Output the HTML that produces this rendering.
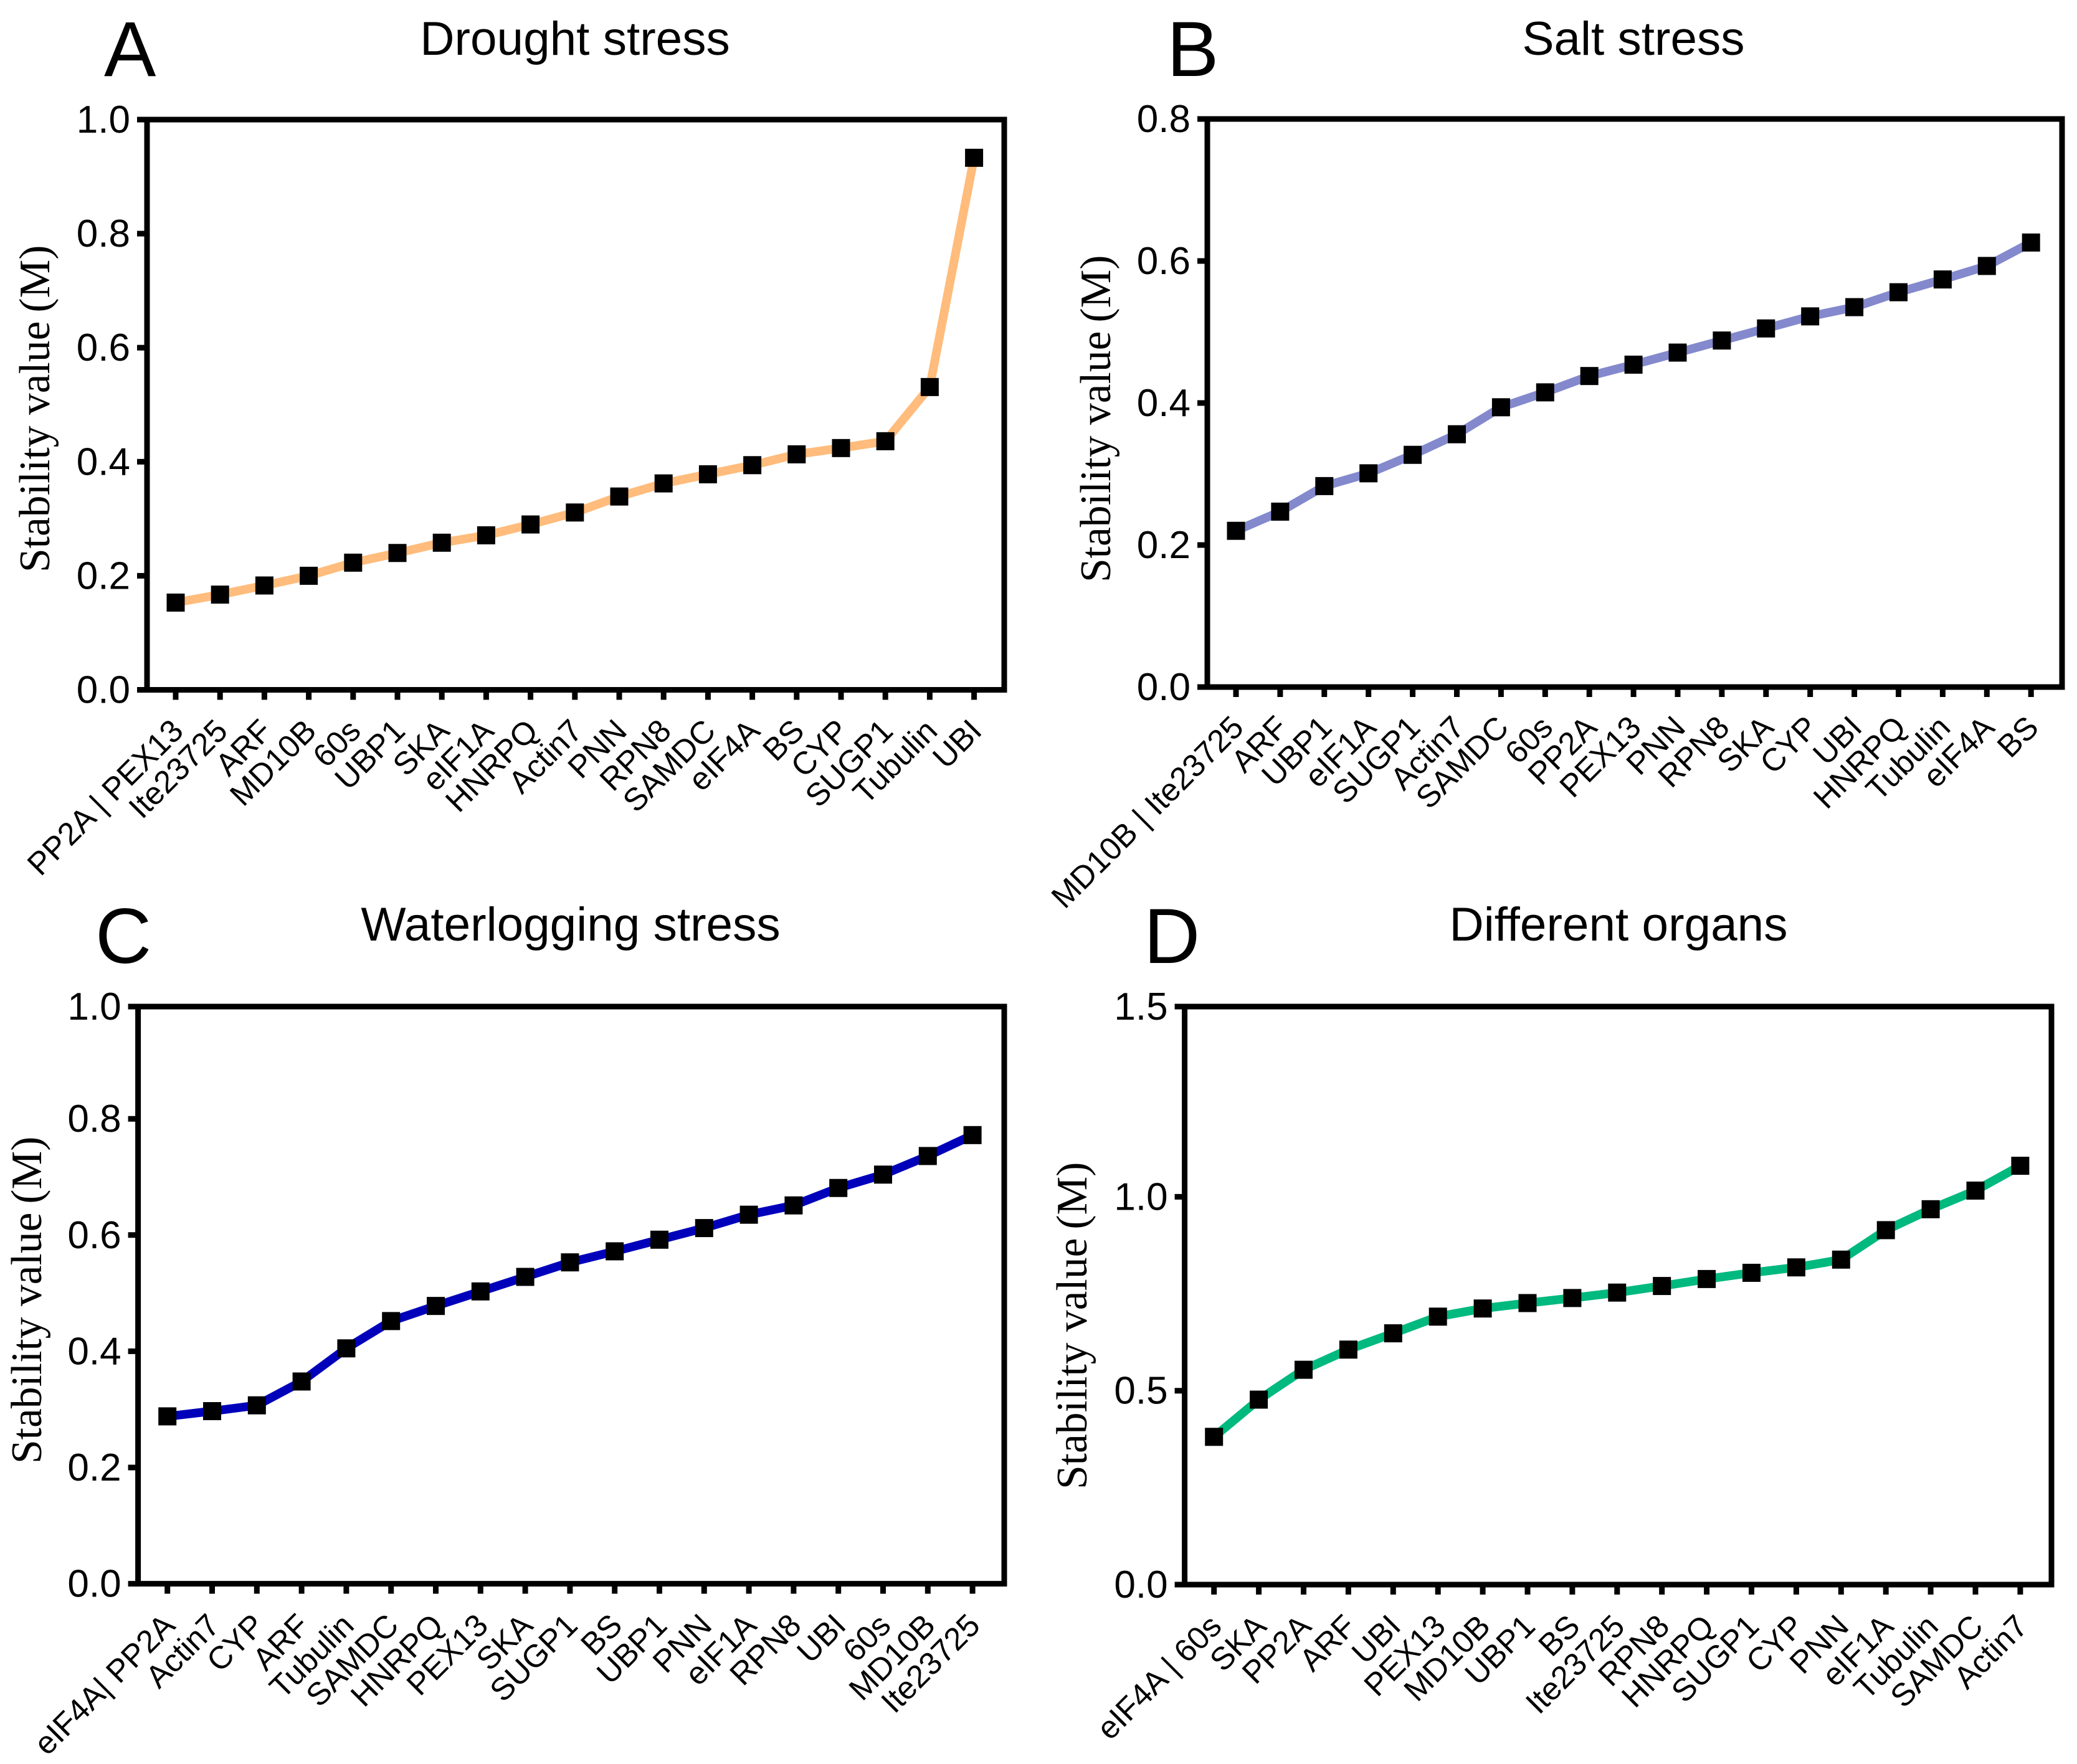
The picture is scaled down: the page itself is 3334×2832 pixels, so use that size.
<!DOCTYPE html>
<html lang="en">
<head>
<meta charset="utf-8">
<title>Stability value (M) under stress conditions</title>
<style>
html,body{margin:0;padding:0;background:#fff;width:3334px;height:2832px;overflow:hidden}
svg{display:block}
text{fill:#000}
.sans{font-family:"Liberation Sans",Arial,sans-serif}
.serif{font-family:"Liberation Serif","Times New Roman",serif}
</style>
</head>
<body>
<svg id="figure" xmlns="http://www.w3.org/2000/svg" width="3334" height="2832" viewBox="0 0 3334 2832"></svg>
<script>
const categoriesA = ["PP2A | PEX13","Ite23725","ARF","MD10B","60s","UBP1","SKA","eIF1A","HNRPQ","Actin7","PNN","RPN8","SAMDC","eIF4A","BS","CYP","SUGP1","Tubulin","UBI"];
const valuesA = [0.153,0.167,0.183,0.2,0.223,0.24,0.258,0.271,0.29,0.311,0.339,0.362,0.378,0.394,0.413,0.424,0.436,0.531,0.933];
const yTicksA = [0,0.2,0.4,0.6,0.8,1.0];

const categoriesB = ["MD10B | Ite23725","ARF","UBP1","eIF1A","SUGP1","Actin7","SAMDC","60s","PP2A","PEX13","PNN","RPN8","SKA","CYP","UBI","HNRPQ","Tubulin","eIF4A","BS"];
const valuesB = [0.22,0.247,0.283,0.301,0.327,0.356,0.394,0.415,0.438,0.454,0.471,0.488,0.505,0.522,0.535,0.556,0.574,0.593,0.626];
const yTicksB = [0,0.2,0.4,0.6,0.8];

const categoriesC = ["eIF4A| PP2A","Actin7","CYP","ARF","Tubulin","SAMDC","HNRPQ","PEX13","SKA","SUGP1","BS","UBP1","PNN","eIF1A","RPN8","UBI","60s","MD10B","Ite23725"];
const valuesC = [0.288,0.297,0.307,0.348,0.405,0.452,0.478,0.503,0.528,0.553,0.572,0.592,0.612,0.635,0.651,0.681,0.704,0.736,0.772];
const yTicksC = [0,0.2,0.4,0.6,0.8,1.0];

const categoriesD = ["eIF4A | 60s","SKA","PP2A","ARF","UBI","PEX13","MD10B","UBP1","BS","Ite23725","RPN8","HNRPQ","SUGP1","CYP","PNN","eIF1A","Tubulin","SAMDC","Actin7"];
const valuesD = [0.381,0.477,0.554,0.606,0.648,0.691,0.712,0.726,0.739,0.753,0.77,0.788,0.804,0.818,0.838,0.914,0.968,1.016,1.08];
const yTicksD = [0,0.5,1.0,1.5];

const NS = "http://www.w3.org/2000/svg";
const root = document.getElementById("figure");

function make(tag, attrs, parent) {
  const el = document.createElementNS(NS, tag);
  for (const k in attrs) el.setAttribute(k, attrs[k]);
  parent.appendChild(el);
  return el;
}

function drawPanel(p) {
  const g = make("g", {}, root);
  
  

  const xPos = i => p.firstX + i * p.stepX;
  const yPos = v => p.bottom - v * p.unitPx;

  const letter = make("text", {x: p.letterX, y: p.letterY, "font-size": 125, class: "sans"}, g);
  letter.textContent = p.id;
  
  

  const title = make("text", {x: p.titleX, y: p.titleY, "font-size": 76.5, "text-anchor": "middle", class: "sans"}, g);
  title.textContent = p.title;
  
  

  const yTitle = make("text", {transform: "translate(" + p.yTitleX + "," + p.yTitleY + ") rotate(-90)", "font-size": 69.5, class: "serif"}, g);
  yTitle.textContent = "Stability value\u2009(M)";
  
  

  const frame = make("rect", {x: p.left, y: p.top, width: p.right - p.left, height: p.bottom - p.top, fill: "none", stroke: "#000", "stroke-width": 9, "stroke-linejoin": "miter"}, g);
  
  

  p.yTicks.forEach(t => {
    const y = Math.max(p.top, yPos(t));
    const tick = make("line", {x1: p.left - 16, x2: p.left, y1: y, y2: y, stroke: "#000", "stroke-width": 9}, g);
    
    
    const lab = make("text", {x: p.left - 27, y: y + 21, "font-size": 62, "text-anchor": "end", class: "sans"}, g);
    lab.textContent = t.toFixed(1);
    
    
  });

  p.categories.forEach((c, i) => {
    const x = xPos(i);
    const tick = make("line", {x1: x, x2: x, y1: p.bottom, y2: p.bottom + 16, stroke: "#000", "stroke-width": 9}, g);
    
    
    const lab = make("text", {transform: "translate(" + (x + p.labelDx) + "," + (p.bottom + p.labelDy) + ") rotate(-45)", "font-size": 51, "text-anchor": "end", class: "sans"}, g);
    lab.textContent = c;
    
    
  });

  const pts = p.values.map((v, i) => xPos(i).toFixed(1) + "," + yPos(v).toFixed(1)).join(" ");
  const line = make("polyline", {points: pts, fill: "none", stroke: p.color, "stroke-width": 14, "stroke-linejoin": "round"}, g);
  
  

  p.values.forEach((v, i) => {
    const s = 29;
    const m = make("rect", {x: xPos(i) - s / 2, y: yPos(v) - s / 2, width: s, height: s, fill: "#000"}, g);
    
    
  });
}

drawPanel({id: "A", title: "Drought stress", categories: categoriesA, values: valuesA, yTicks: yTicksA, unitPx: 915.5, color: "#FFBC7C",
  left: 236, right: 1612, top: 192, bottom: 1107.5, firstX: 282, stepX: 71.2, letterX: 167, letterY: 122, titleX: 923, titleY: 88, yTitleX: 79, yTitleY: 919, labelDx: 15, labelDy: 69});
drawPanel({id: "B", title: "Salt stress", categories: categoriesB, values: valuesB, yTicks: yTicksB, unitPx: 1140, color: "#8389CC",
  left: 1938, right: 3310, top: 191, bottom: 1103, firstX: 1984, stepX: 70.9, letterX: 1873, letterY: 122, titleX: 2622, titleY: 88, yTitleX: 1782, yTitleY: 935, labelDx: 15, labelDy: 68});
drawPanel({id: "C", title: "Waterlogging stress", categories: categoriesC, values: valuesC, yTicks: yTicksC, unitPx: 933, color: "#0000BB",
  left: 221.6, right: 1612, top: 1616, bottom: 2542.6, firstX: 268.7, stepX: 71.8, letterX: 153, letterY: 1546, titleX: 916, titleY: 1510, yTitleX: 66, yTitleY: 2350, labelDx: 15, labelDy: 70});
drawPanel({id: "D", title: "Different organs", categories: categoriesD, values: valuesD, yTicks: yTicksD, unitPx: 622.6, color: "#00B97E",
  left: 1901.6, right: 3293, top: 1616, bottom: 2544, firstX: 1948.7, stepX: 71.9, letterX: 1836, letterY: 1546, titleX: 2598, titleY: 1510, yTitleX: 1744, yTitleY: 2391, labelDx: 15, labelDy: 70});
</script>
</body>
</html>
